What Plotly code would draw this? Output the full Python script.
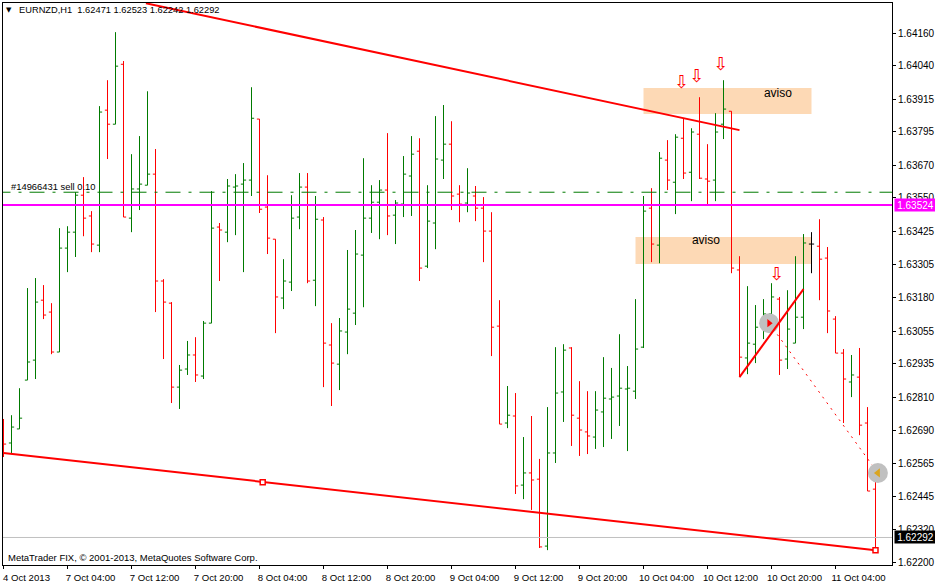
import plotly.graph_objects as go

symbol_text = "EURNZD,H1  1.62471 1.62523 1.62242 1.62292"
copyright_text = "MetaTrader FIX, \u00a9 2001-2013, MetaQuotes Software Corp."
order_text = "#14966431 sell 0.10"

date_labels = ["4 Oct 2013", "7 Oct 04:00", "7 Oct 12:00", "7 Oct 20:00", "8 Oct 04:00",
               "8 Oct 12:00", "8 Oct 20:00", "9 Oct 04:00", "9 Oct 12:00", "9 Oct 20:00",
               "10 Oct 04:00", "10 Oct 12:00", "10 Oct 20:00", "11 Oct 04:00"]
date_ticks = [0, 8, 16, 24, 32, 40, 48, 56, 64, 72, 80, 88, 96, 104]
price_ticks = [1.64160, 1.64040, 1.63915, 1.63795, 1.63670, 1.63550, 1.63425, 1.63305,
               1.63180, 1.63055, 1.62935, 1.62810, 1.62690, 1.62565, 1.62445, 1.62320, 1.62200]

opens = [1.62690, 1.62642, 1.62694, 1.62875, 1.62949, 1.63171, 1.63127, 1.62979, 1.63364, 1.63423,
         1.63560, 1.63483, 1.63375, 1.63875, 1.63823, 1.64045, 1.63475, 1.63583, 1.63597, 1.63638,
         1.63242, 1.63160, 1.62849, 1.62916, 1.62968, 1.62890, 1.63086, 1.63442, 1.63423, 1.63590,
         1.63601, 1.63616, 1.63842, 1.63516, 1.63397, 1.63179, 1.63238, 1.63479, 1.63590, 1.63245,
         1.63468, 1.63005, 1.62934, 1.63053, 1.63123, 1.63338, 1.63475, 1.63534, 1.63579, 1.63486,
         1.63527, 1.63631, 1.63723, 1.63297, 1.63457, 1.63690, 1.63749, 1.63564, 1.63531, 1.63557,
         1.63512, 1.63427, 1.63075, 1.62716, 1.62742, 1.62486, 1.62531, 1.62508, 1.62260, 1.62605,
         1.62831, 1.62994, 1.62734, 1.62683, 1.62664, 1.62757, 1.62805, 1.62816, 1.62842, 1.62834,
         1.62997, 1.63512, 1.63375, 1.63690, 1.63608, 1.63771, 1.63645, 1.63786, 1.63620, 1.63616,
         1.63823, 1.63871, 1.63283, 1.62957, 1.63008, 1.63071, 1.63120, 1.63175, 1.62953, 1.63012,
         1.63108, 1.63379, 1.63371, 1.63327, 1.63101, 1.62975, 1.62868, 1.62886, 1.62716, 1.62471]
highs = [1.62731, 1.62745, 1.62845, 1.63216, 1.63253, 1.63227, 1.63160, 1.63438, 1.63445, 1.63571,
         1.63627, 1.63501, 1.63890, 1.63986, 1.64164, 1.64057, 1.63712, 1.63779, 1.63945, 1.63731,
         1.63249, 1.63164, 1.62931, 1.63020, 1.63034, 1.63094, 1.63575, 1.63457, 1.63620, 1.63638,
         1.63679, 1.63960, 1.63842, 1.63634, 1.63397, 1.63323, 1.63560, 1.63642, 1.63642, 1.63557,
         1.63479, 1.63086, 1.63105, 1.63357, 1.63431, 1.63697, 1.63597, 1.63616, 1.63790, 1.63542,
         1.63705, 1.63779, 1.63771, 1.63597, 1.63853, 1.63894, 1.63834, 1.63597, 1.63660, 1.63594,
         1.63553, 1.63497, 1.63171, 1.62853, 1.62827, 1.62664, 1.62742, 1.62583, 1.62775, 1.62997,
         1.63008, 1.62997, 1.62871, 1.62834, 1.62834, 1.62960, 1.62920, 1.63045, 1.62927, 1.63175,
         1.63557, 1.63586, 1.63720, 1.63764, 1.63786, 1.63845, 1.63808, 1.63923, 1.63749, 1.63864,
         1.63986, 1.63871, 1.63334, 1.63223, 1.63153, 1.63175, 1.63234, 1.63183, 1.63208, 1.63334,
         1.63416, 1.63423, 1.63471, 1.63368, 1.63112, 1.62990, 1.62968, 1.62994, 1.62775, 1.62523]
lows = [1.62590, 1.62605, 1.62694, 1.62875, 1.62879, 1.63101, 1.62971, 1.62979, 1.63275, 1.63331,
        1.63408, 1.63349, 1.63349, 1.63694, 1.63823, 1.63479, 1.63423, 1.63505, 1.63597, 1.63127,
        1.62953, 1.62790, 1.62768, 1.62894, 1.62868, 1.62879, 1.63086, 1.63242, 1.63386, 1.63412,
        1.63275, 1.63557, 1.63494, 1.63342, 1.63049, 1.63138, 1.63205, 1.63434, 1.63234, 1.63149,
        1.62849, 1.62779, 1.62838, 1.62971, 1.63079, 1.63145, 1.63420, 1.63397, 1.63412, 1.63379,
        1.63479, 1.63483, 1.63242, 1.63290, 1.63360, 1.63620, 1.63505, 1.63460, 1.63497, 1.63464,
        1.63312, 1.62964, 1.62712, 1.62697, 1.62453, 1.62434, 1.62394, 1.62253, 1.62245, 1.62568,
        1.62720, 1.62631, 1.62594, 1.62601, 1.62620, 1.62627, 1.62657, 1.62705, 1.62612, 1.62805,
        1.62994, 1.63312, 1.63308, 1.63579, 1.63490, 1.63620, 1.63538, 1.63620, 1.63523, 1.63538,
        1.63768, 1.63271, 1.62886, 1.62897, 1.62938, 1.63027, 1.63086, 1.62894, 1.62916, 1.63012,
        1.63064, 1.63271, 1.63171, 1.63049, 1.62975, 1.62716, 1.62812, 1.62671, 1.62464, 1.62242]
closes = [1.62638, 1.62701, 1.62734, 1.62942, 1.63164, 1.63116, 1.62979, 1.63364, 1.63423, 1.63560,
          1.63475, 1.63379, 1.63868, 1.63823, 1.64038, 1.63479, 1.63583, 1.63601, 1.63638, 1.63242,
          1.63164, 1.62849, 1.62912, 1.62968, 1.62894, 1.63086, 1.63438, 1.63431, 1.63594, 1.63594,
          1.63616, 1.63845, 1.63508, 1.63401, 1.63183, 1.63242, 1.63475, 1.63590, 1.63242, 1.63471,
          1.63012, 1.62938, 1.63057, 1.63138, 1.63342, 1.63475, 1.63534, 1.63579, 1.63483, 1.63531,
          1.63638, 1.63712, 1.63290, 1.63464, 1.63694, 1.63749, 1.63557, 1.63527, 1.63568, 1.63512,
          1.63427, 1.63071, 1.62712, 1.62745, 1.62483, 1.62531, 1.62505, 1.62257, 1.62605, 1.62827,
          1.62986, 1.62745, 1.62690, 1.62668, 1.62764, 1.62808, 1.62812, 1.62845, 1.62845, 1.62990,
          1.63501, 1.63379, 1.63697, 1.63616, 1.63775, 1.63642, 1.63794, 1.63623, 1.63612, 1.63794,
          1.63879, 1.63290, 1.62960, 1.63012, 1.63071, 1.63120, 1.63183, 1.62949, 1.63064, 1.63108,
          1.63383, 1.63379, 1.63323, 1.63131, 1.62975, 1.62879, 1.62894, 1.62708, 1.62464, 1.62292]
black_bar = 101

bid_price = 1.63524
sell_price = 1.63571
last_price = 1.62292

# objects drawn on the chart, x in bars, y in price
upper_trend_x = [17.8, 92]
upper_trend_y = [1.64271, 1.63801]
lower_trend_x = [0, 109]
lower_trend_y = [1.62605, 1.62245]
lower_handle_x = [32.4, 109]
lower_handle_y = [1.62497, 1.62245]
short_trend_x = [92, 100]
short_trend_y = [1.62886, 1.63212]
trade_x = [95.7, 109.3]
trade_y = [1.63086, 1.62531]
arrow_x = [84.8, 86.7, 89.7, 96.7]
arrow_y = [1.63975, 1.63997, 1.64042, 1.63264]
zones = [(80, 101, 1.63861, 1.63957), (79, 101, 1.63305, 1.63405)]
zone_text_x = [96.8, 87.8]
zone_text_y = [1.63936, 1.63390]

GREEN = "#007a00"
RED = "#ff0000"
FONT = "Liberation Sans"

bars = [i for i in range(len(opens)) if i != black_bar]
fig = go.Figure()

for x0, x1, y0, y1 in zones:
    fig.add_shape(type="rect", x0=x0, x1=x1, y0=y0, y1=y1, layer="below",
                  fillcolor="#fdd9b5", line_width=0)

fig.add_trace(go.Scatter(x=[-1, 112], y=[last_price, last_price], mode="lines",
                         line=dict(color="#c0c0c0", width=1)))
fig.add_trace(go.Scatter(x=[-1, 112], y=[sell_price, sell_price], mode="lines",
                         line=dict(color=GREEN, width=1, dash="15px,8px,3px,8px")))
fig.add_trace(go.Ohlc(x=bars,
                      open=[opens[i] for i in bars], high=[highs[i] for i in bars],
                      low=[lows[i] for i in bars], close=[closes[i] for i in bars],
                      tickwidth=0.33,
                      increasing_line=dict(color=GREEN, width=1),
                      decreasing_line=dict(color=RED, width=1)))
fig.add_trace(go.Ohlc(x=[black_bar], open=[opens[black_bar]], high=[highs[black_bar]],
                      low=[lows[black_bar]], close=[closes[black_bar]], tickwidth=0.33,
                      increasing_line=dict(color="#000000", width=1),
                      decreasing_line=dict(color="#000000", width=1)))
fig.add_trace(go.Scatter(x=[-1, 112], y=[bid_price, bid_price], mode="lines",
                         line=dict(color="#ff00ff", width=2)))
fig.add_trace(go.Scatter(x=trade_x, y=trade_y, mode="lines",
                         line=dict(color=RED, width=1, dash="2px,5px")))
# the two grey order circles sit under the trend line
fig.add_trace(go.Scatter(x=trade_x, y=trade_y, mode="markers",
                         marker=dict(color="#c0c0c0", size=20, line_width=0)))
fig.add_trace(go.Scatter(x=trade_x[:1], y=trade_y[:1], mode="markers",
                         marker=dict(color=RED, size=7, symbol="triangle-right", line_width=0)))
fig.add_trace(go.Scatter(x=trade_x[1:], y=trade_y[1:], mode="markers",
                         marker=dict(color="#daa520", size=8, symbol="triangle-left", line_width=0)))
for tx, ty in [(upper_trend_x, upper_trend_y), (lower_trend_x, lower_trend_y),
               (short_trend_x, short_trend_y)]:
    fig.add_trace(go.Scatter(x=tx, y=ty, mode="lines", line=dict(color=RED, width=2)))
fig.add_trace(go.Scatter(x=lower_handle_x, y=lower_handle_y, mode="markers",
                         marker=dict(color="#ffffff", size=5, symbol="square",
                                     line=dict(color=RED, width=1.5))))
fig.add_trace(go.Scatter(x=arrow_x, y=arrow_y, mode="text", text=["\u21e9"] * len(arrow_x),
                         textfont=dict(family="DejaVu Sans", size=18, color=RED)))
fig.add_trace(go.Scatter(x=zone_text_x, y=zone_text_y, mode="text", text=["aviso", "aviso"],
                         textfont=dict(family=FONT, size=12, color="#000000")))


def note(text, px, py, **kw):
    # px, py are window pixels of the left-middle of the text
    fig.add_annotation(text=text, xref="paper", yref="paper",
                       x=(px - 3) / 889, y=(565 - py) / 562,
                       xanchor=kw.pop("xanchor", "left"), yanchor="middle",
                       showarrow=False, borderpad=0, **kw)


small = dict(family=FONT, size=10, color="#000000")
note("\u25bc", 5, 10, font=dict(family="DejaVu Sans", size=7, color="#000000"))
note(symbol_text, 18, 10, font=dict(family=FONT, size=9.3, color="#000000"))
note(order_text, 10, 186, font=dict(family=FONT, size=9.4, color="#000000"))
note(copyright_text, 7, 557, font=dict(family=FONT, size=9.5, color="#000000"))
note("%.5f" % bid_price, 894, 205, font=dict(family=FONT, size=10, color="#ffffff"),
     bgcolor="#ff00ff", width=41, height=12, align="center")
note("%.5f" % last_price, 894, 537, font=dict(family=FONT, size=10, color="#ffffff"),
     bgcolor="#000000", width=41, height=12, align="center")

fig.update_layout(
    width=935, height=583,
    margin=dict(l=3, r=43, t=3, b=18),
    paper_bgcolor="#ffffff", plot_bgcolor="#ffffff",
    showlegend=False,
    font=small,
    xaxis=dict(range=[-0.0625, 111.0625], rangeslider_visible=False, showgrid=False,
               zeroline=False, automargin=False, tickmode="array", tickvals=date_ticks,
               ticktext=date_labels, ticks="outside", ticklen=3, tickcolor="#000000",
               ticklabelshift=23, ticklabelstandoff=0, showline=True, linecolor="#000000",
               linewidth=1, mirror=True, tickfont=dict(family=FONT, size=9.6, color="#000000")),
    yaxis=dict(range=[1.62190, 1.64272], side="right", showgrid=False, zeroline=False,
               automargin=False, tickmode="array", tickvals=price_ticks, tickformat=".5f",
               ticks="outside", ticklen=3, tickcolor="#000000",
               showline=True, linecolor="#000000", linewidth=1, mirror=True,
               tickfont=small),
)

# the page's own 8px body margin would push the fixed-size figure off the window
fig.write_html("out.html", config={"displayModeBar": False},
               post_script="document.body.style.margin = '0';")
